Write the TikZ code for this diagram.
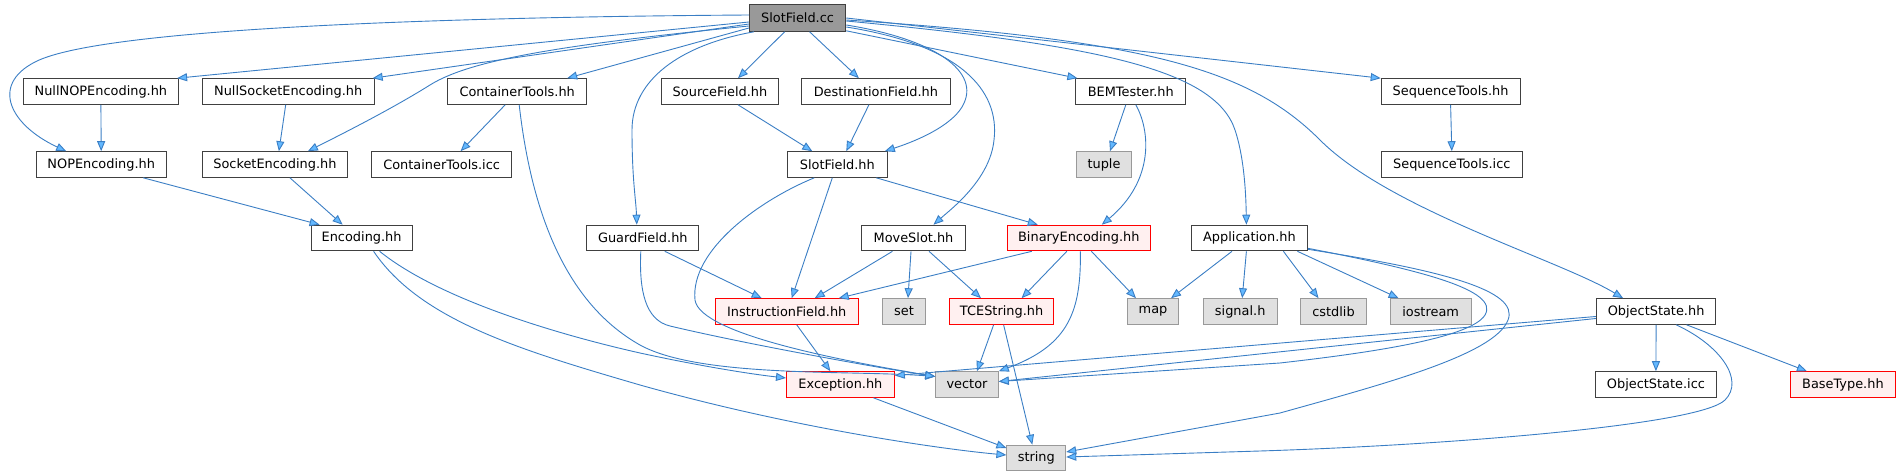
\documentclass[tikz,border=0pt]{standalone}
\usepackage{fontspec}
\setmainfont{DejaVu Sans}
\usetikzlibrary{arrows.meta,calc}
\definecolor{edgecol}{HTML}{3A7EC4}
\definecolor{arrowfill}{HTML}{63B8FF}
\definecolor{boxborder}{HTML}{404040}
\definecolor{sysfill}{HTML}{E0E0E0}
\definecolor{sysborder}{HTML}{999999}
\definecolor{redfill}{HTML}{FFF0F0}
\definecolor{rootfill}{HTML}{999999}
\tikzset{
  hdr/.style={draw=boxborder, fill=white, line width=1pt, minimum height=25.6pt, inner sep=0pt, font=\fontsize{12.9}{14}\selectfont},
  rootbox/.style={hdr, fill=rootfill, minimum height=26.6pt},
  sysbox/.style={hdr, fill=sysfill, draw=sysborder},
  redbox/.style={hdr, fill=redfill, draw=red},
  edge/.style={draw=edgecol, line width=0.9pt, -{Triangle[length=10pt,width=8pt,fill=arrowfill]}}
}
\begin{document}
\begin{tikzpicture}[x=1pt,y=-1pt]
\useasboundingbox (0,0) rectangle (1900,476);
% row 0
\node[rootbox, minimum width=96.3pt] (cc) at (797.6,18) {SlotField.cc};
% row 1
\node[hdr, minimum width=155.4pt] (nullnop) at (100.9,91.5) {NullNOPEncoding.hh};
\node[hdr, minimum width=171.9pt] (nullsock) at (288.2,91.5) {NullSocketEncoding.hh};
\node[hdr, minimum width=138.8pt] (ctools) at (517.2,91.5) {ContainerTools.hh};
\node[hdr, minimum width=117.6pt] (srcf) at (720,91.5) {SourceField.hh};
\node[hdr, minimum width=148.6pt] (dstf) at (875.9,91.5) {DestinationField.hh};
\node[hdr, minimum width=109.8pt] (bem) at (1130.8,91.5) {BEMTester.hh};
\node[hdr, minimum width=138.8pt] (seqt) at (1450.6,91.5) {SequenceTools.hh};
% row 2
\node[hdr, minimum width=129.8pt] (nop) at (101.2,164.5) {NOPEncoding.hh};
\node[hdr, minimum width=144.9pt] (sockenc) at (274.9,164.5) {SocketEncoding.hh};
\node[hdr, minimum width=140.4pt] (cticc) at (441.6,164.5) {ContainerTools.icc};
\node[hdr, minimum width=100pt] (sfhh) at (837.3,164.5) {SlotField.hh};
\node[sysbox, minimum width=55.5pt] (tuple) at (1104,164.5) {tuple};
\node[hdr, minimum width=140.4pt] (seqicc) at (1451.8,164.5) {SequenceTools.icc};
% row 3
\node[hdr, minimum width=101.2pt] (enc) at (361.6,238) {Encoding.hh};
\node[hdr, minimum width=111.9pt] (guard) at (642.8,238) {GuardField.hh};
\node[hdr, minimum width=103.7pt] (move) at (913.5,238) {MoveSlot.hh};
\node[redbox, minimum width=142.9pt] (binenc) at (1078.8,238) {BinaryEncoding.hh};
\node[hdr, minimum width=115.9pt] (app) at (1249.4,238) {Application.hh};
% row 4
\node[redbox, minimum width=143.3pt] (instr) at (786.7,311.5) {InstructionField.hh};
\node[sysbox, minimum width=43.3pt] (set) at (904,311.5) {set};
\node[redbox, minimum width=104.5pt] (tce) at (1001.6,311.5) {TCEString.hh};
\node[sysbox, minimum width=51.5pt] (map) at (1153,311.5) {map};
\node[sysbox, minimum width=73.8pt] (signal) at (1240.2,311.5) {signal.h};
\node[sysbox, minimum width=66.1pt] (cstdlib) at (1333.5,311.5) {cstdlib};
\node[sysbox, minimum width=80.8pt] (iostream) at (1430.6,311.5) {iostream};
\node[hdr, minimum width=119.6pt] (objst) at (1656.1,311.5) {ObjectState.hh};
% row 5
\node[redbox, minimum width=107.8pt] (exc) at (840.4,384.5) {Exception.hh};
\node[sysbox, minimum width=62.5pt] (vector) at (967,384.5) {vector};
\node[hdr, minimum width=120.8pt] (objicc) at (1655.9,384.5) {ObjectState.icc};
\node[redbox, minimum width=105.3pt] (basetype) at (1842.9,384.5) {BaseType.hh};
% row 6
\node[sysbox, minimum width=58.8pt] (string) at (1036.3,458) {string};

% edges from SlotField.cc
\draw[edge] ($(cc.west)+(0,-3)$) .. controls (450,17) and (100,28) .. (35,62) .. controls (-10,85) and (10,125) .. ($(nop.north)+(-35,0)$);
\draw[edge] ($(cc.west)+(0,4)$) -- ($(nullnop.north east)+(-2,0)$);
\draw[edge] ($(cc.west)+(0,6)$) -- ($(nullsock.north east)+(-2,0)$);
\draw[edge] ($(cc.west)+(0,8)$) .. controls (560,45) and (470,60) .. (430,85) .. controls (390,110) and (340,135) .. ($(sockenc.north)+(33,0)$);
\draw[edge] ($(cc.west)+(0,10)$) -- ($(ctools.north)+(50,0)$);
\draw[edge] ($(cc.south west)+(5,0)$) .. controls (680,45) and (632,80) .. (632,130) .. controls (632,180) and (636,200) .. ($(guard.north)+(-6,0)$);
\draw[edge] ($(cc.south)+(-13,0)$) -- ($(srcf.north)+(18,0)$);
\draw[edge] ($(cc.south)+(12,0)$) -- ($(dstf.north)+(-17,0)$);
\draw[edge] ($(cc.east)+(0,7)$) .. controls (940,40) and (985,75) .. (960,110) .. controls (945,130) and (910,143) .. ($(sfhh.north east)+(-3,0)$);
\draw[edge] ($(cc.east)+(0,9)$) .. controls (960,45) and (1000,90) .. (994,140) .. controls (990,180) and (950,210) .. ($(move.north)+(20,0)$);
\draw[edge] ($(cc.south east)+(0,-1)$) -- ($(bem.north west)+(2,0)$);
\draw[edge] ($(cc.east)+(0,3)$) .. controls (1100,45) and (1215,70) .. (1235,130) .. controls (1245,160) and (1246,200) .. ($(app.north)+(-3,0)$);
\draw[edge] (cc.east) -- (seqt.north west);
\draw[edge] ($(cc.east)+(0,2)$) .. controls (1150,40) and (1250,70) .. (1320,140) .. controls (1390,210) and (1560,260) .. ($(objst.north)+(-33,0)$);

% row 1 edges
\draw[edge] (nullnop.south) -- (nop.north);
\draw[edge] ($(nullsock.south)+(-2.5,0)$) -- ($(sockenc.north)+(4,0)$);
\draw[edge] ($(ctools.south)+(-12,0)$) -- ($(cticc.north)+(19,0)$);
\draw[edge] ($(ctools.south)+(2,0)$) .. controls (530,200) and (560,300) .. (640,345) .. controls (700,378) and (850,370) .. ($(vector.west)+(0,-8)$);
\draw[edge] ($(srcf.south)+(18,0)$) -- ($(sfhh.north)+(-25,0)$);
\draw[edge] ($(dstf.south)+(-7,0)$) -- ($(sfhh.north)+(9,0)$);
\draw[edge] ($(bem.south)+(-5,0)$) -- ($(tuple.north)+(6,0)$);
\draw[edge] ($(bem.south)+(5,0)$) .. controls (1150,130) and (1155,180) .. ($(binenc.north)+(23,0)$);
\draw[edge] (seqt.south) -- (seqicc.north);

% row 2 edges
\draw[edge] ($(nop.south)+(42,0)$) -- ($(enc.north)+(-42,0)$);
\draw[edge] ($(sockenc.south)+(15,0)$) -- ($(enc.north)+(-19,0)$);
\draw[edge] ($(sfhh.south)+(-23,0)$) .. controls (760,200) and (690,250) .. (695,300) .. controls (700,335) and (850,362) .. ($(vector.west)+(0,-8)$);
\draw[edge] ($(sfhh.south)+(-5,0)$) -- ($(instr.north)+(5,0)$);
\draw[edge] ($(sfhh.south)+(39,0)$) -- ($(binenc.north)+(-41,0)$);

% row 3 edges
\draw[edge] ($(enc.south)+(18,0)$) .. controls (440,300) and (560,335) .. (640,353) .. controls (700,366) and (750,374) .. ($(exc.west)+(0,-6.5)$);
\draw[edge] ($(enc.south)+(12,0)$) .. controls (420,320) and (520,350) .. (640,385) .. controls (800,430) and (950,450) .. ($(string.west)+(0,-3)$);
\draw[edge] ($(guard.south)+(22,0)$) -- ($(instr.north)+(-25,0)$);
\draw[edge] ($(guard.south)+(-2,0)$) .. controls (639,290) and (645,320) .. (670,326) .. controls (750,345) and (880,368) .. ($(vector.west)+(0,-8)$);
\draw[edge] ($(move.south)+(-21,0)$) -- ($(instr.north)+(28,0)$);
\draw[edge] ($(move.south)+(-2.5,0)$) -- ($(set.north)+(4,0)$);
\draw[edge] ($(move.south)+(15.5,0)$) -- ($(tce.north)+(-20.6,0)$);
\draw[edge] ($(binenc.south)+(-47,0)$) -- ($(instr.north)+(52,0)$);
\draw[edge] ($(binenc.south)+(-12,0)$) -- ($(tce.north)+(20,0)$);
\draw[edge] ($(binenc.south)+(12.6,0)$) -- ($(map.north)+(-17,0)$);
\draw[edge] ($(binenc.south)+(1.6,0)$) .. controls (1081,310) and (1070,345) .. (vector.north east);
\draw[edge] ($(app.south)+(-17.4,0)$) -- ($(map.north)+(18,0)$);
\draw[edge] ($(app.south)+(-3,0)$) -- ($(signal.north)+(2,0)$);
\draw[edge] ($(app.south)+(34,0)$) -- ($(cstdlib.north)+(-15,0)$);
\draw[edge] ($(app.south)+(48,0)$) -- ($(iostream.north)+(-32,0)$);
\draw[edge] ($(app.south east)+(0,-3)$) .. controls (1420,270) and (1500,290) .. (1485,315) .. controls (1470,340) and (1350,355) .. (1280,363) -- ($(vector.east)+(0,-3)$);
\draw[edge] ($(app.south east)+(0,-2)$) .. controls (1440,270) and (1520,290) .. (1508,320) .. controls (1495,355) and (1380,385) .. (1280,413) -- ($(string.east)+(0,-6)$);

% row 4 edges
\draw[edge] ($(instr.south)+(10,0)$) -- ($(exc.north)+(-10,0)$);
\draw[edge] ($(tce.south)+(-8,0)$) -- ($(vector.north)+(10,0)$);
\draw[edge] ($(tce.south)+(2,0)$) -- ($(string.north)+(-4,0)$);
\draw[edge] ($(objst.west)+(0,5)$) -- ($(exc.east)+(0,-9)$);
\draw[edge] ($(objst.west)+(0,7)$) -- ($(vector.east)+(0,-3)$);
\draw[edge] (objst.south) -- (objicc.north);
\draw[edge] ($(objst.south)+(30.4,0)$) -- ($(basetype.north)+(-36,0)$);
\draw[edge] ($(objst.south)+(20,0)$) .. controls (1720,345) and (1745,380) .. (1725,400) .. controls (1700,425) and (1450,445) .. (1260,451) -- ($(string.east)+(0,-1)$);

% row 5 edges
\draw[edge] ($(exc.south)+(33,0)$) -- ($(string.west)+(0,-10)$);
\end{tikzpicture}
\end{document}
